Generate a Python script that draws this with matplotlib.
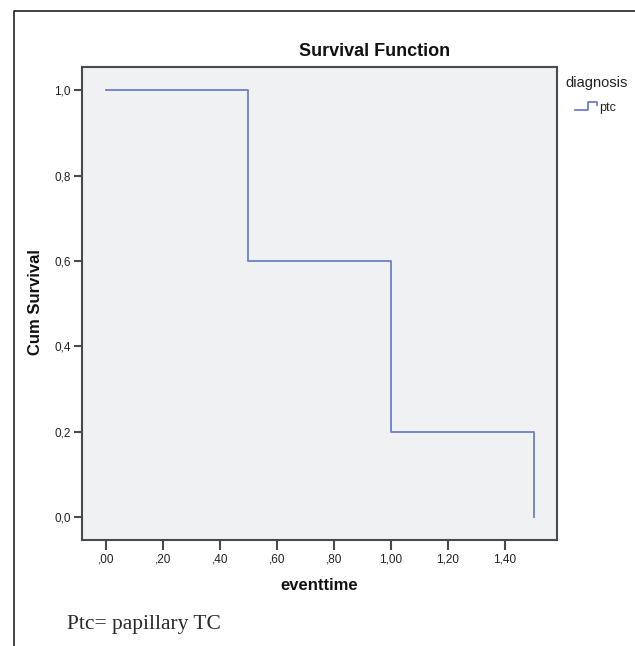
import matplotlib
matplotlib.use("Agg")
import matplotlib.pyplot as plt
from matplotlib.lines import Line2D

# Kaplan-Meier estimate, diagnosis = ptc
event_times = [0.0, 0.5, 1.0, 1.5]
cum_survival = [1.0, 0.6, 0.2, 0.0]

x_ticks = [0.0, 0.2, 0.4, 0.6, 0.8, 1.0, 1.2, 1.4]
x_tick_labels = [",00", ",20", ",40", ",60", ",80", "1,00", "1,20", "1,40"]
y_ticks = [0.0, 0.2, 0.4, 0.6, 0.8, 1.0]
y_tick_labels = ["0,0", "0,2", "0,4", "0,6", "0,8", "1,0"]

W, H = 635, 646
LINE = "#6b7fc7"
SPINE = "#4a4a4a"

plt.rcParams["font.family"] = ["Liberation Sans", "DejaVu Sans"]

fig = plt.figure(figsize=(W / 100, H / 100), dpi=100)
fig.patch.set_facecolor("white")


def px(x, y):
    # pixel coords (top-left origin) -> figure fraction
    return x / W, 1 - y / H


ax = fig.add_axes([82 / W, 1 - 540 / H, (557 - 82) / W, (540 - 67) / H])
ax.set_facecolor("#f0f1f3")
ax.step(event_times, cum_survival, where="post", color=LINE, lw=1.3)

ax.set_xlim(-0.083, 1.582)
ax.set_ylim(-0.054, 1.055)
ax.set_xticks(x_ticks)
ax.set_xticklabels(x_tick_labels)
ax.set_yticks(y_ticks)
ax.set_yticklabels(y_tick_labels)
ax.tick_params(axis="x", length=7, width=1.5, color=SPINE, pad=3,
               labelsize=8.5, labelcolor="#222222")
ax.tick_params(axis="y", length=6, width=1.5, color=SPINE, pad=2,
               labelsize=8.5, labelcolor="#222222")
for s in ax.spines.values():
    s.set_color(SPINE)
    s.set_linewidth(1.5)

# titles and axis labels
fig.text(*px(375, 52), "Survival Function", ha="center", va="center",
         fontsize=13, fontweight="bold", color="#111111")
fig.text(*px(36, 302), "Cum Survival", ha="center", va="center",
         rotation=90, fontsize=12, fontweight="bold", color="#111111")
fig.text(*px(319, 586), "eventtime", ha="center", va="center",
         fontsize=12, fontweight="bold", color="#111111")

# legend
fig.text(*px(565, 83), "diagnosis", ha="left", va="center",
         fontsize=10.5, color="#222222")
lx = [575, 588, 588, 597, 597]
ly = [110, 110, 102, 102, 105]
fig.add_artist(Line2D([x / W for x in lx], [1 - y / H for y in ly],
                      color=LINE, lw=1.3, transform=fig.transFigure))
fig.text(*px(599, 108), "ptc", ha="left", va="center",
         fontsize=9, color="#222222")

# caption
fig.text(*px(67, 624), "Ptc= papillary TC", ha="left", va="center",
         fontsize=15.5, family=["Liberation Serif", "DejaVu Serif"],
         color="#2a2a2a")

# outer frame (top and left)
fig.add_artist(Line2D([14 / W, 14 / W, 1.0], [0.0, 1 - 11 / H, 1 - 11 / H],
                      color="#222222", lw=1.2, transform=fig.transFigure))

fig.savefig("out.png", dpi=100, facecolor="white")
